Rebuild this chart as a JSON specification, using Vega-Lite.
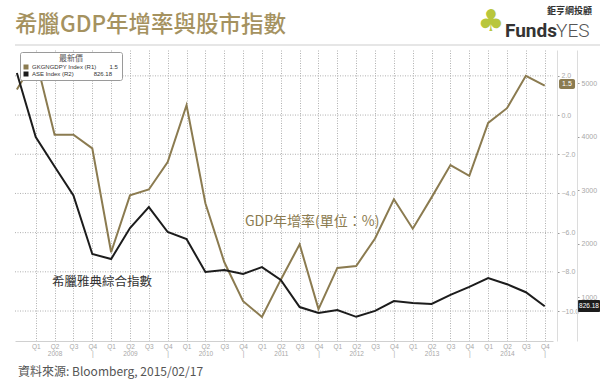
{
  "$schema": "https://vega.github.io/schema/vega-lite/v6.json",
  "width": 538,
  "height": 291,
  "autosize": {"type": "none"},
  "padding": {"left": 15, "top": 50, "right": 47, "bottom": 41},
  "background": "white",
  "config": {"view": {"stroke": null}, "font": "Noto Sans CJK TC"},
  "data": {"values": [
    {"t": 0, "quarter": "2007Q4", "gdp": 1.3, "ase": 5187},
    {"t": 1, "quarter": "2008Q1", "gdp": 2.9, "ase": 3991},
    {"t": 2, "quarter": "2008Q2", "gdp": -1.0, "ase": 3440},
    {"t": 3, "quarter": "2008Q3", "gdp": -1.0, "ase": 2900},
    {"t": 4, "quarter": "2008Q4", "gdp": -1.7, "ase": 1804},
    {"t": 5, "quarter": "2009Q1", "gdp": -7.0, "ase": 1710},
    {"t": 6, "quarter": "2009Q2", "gdp": -4.1, "ase": 2290},
    {"t": 7, "quarter": "2009Q3", "gdp": -3.8, "ase": 2682},
    {"t": 8, "quarter": "2009Q4", "gdp": -2.4, "ase": 2215},
    {"t": 9, "quarter": "2010Q1", "gdp": 0.5, "ase": 2084},
    {"t": 10, "quarter": "2010Q2", "gdp": -4.5, "ase": 1467},
    {"t": 11, "quarter": "2010Q3", "gdp": -7.5, "ase": 1505},
    {"t": 12, "quarter": "2010Q4", "gdp": -9.5, "ase": 1430},
    {"t": 13, "quarter": "2011Q1", "gdp": -10.3, "ase": 1560},
    {"t": 14, "quarter": "2011Q2", "gdp": -8.4, "ase": 1318},
    {"t": 15, "quarter": "2011Q3", "gdp": -6.6, "ase": 813},
    {"t": 16, "quarter": "2011Q4", "gdp": -9.9, "ase": 700},
    {"t": 17, "quarter": "2012Q1", "gdp": -7.8, "ase": 757},
    {"t": 18, "quarter": "2012Q2", "gdp": -7.7, "ase": 630},
    {"t": 19, "quarter": "2012Q3", "gdp": -6.3, "ase": 740},
    {"t": 20, "quarter": "2012Q4", "gdp": -4.3, "ase": 925},
    {"t": 21, "quarter": "2013Q1", "gdp": -5.8, "ase": 890},
    {"t": 22, "quarter": "2013Q2", "gdp": -4.2, "ase": 870},
    {"t": 23, "quarter": "2013Q3", "gdp": -2.55, "ase": 1040},
    {"t": 24, "quarter": "2013Q4", "gdp": -3.1, "ase": 1190},
    {"t": 25, "quarter": "2014Q1", "gdp": -0.4, "ase": 1355},
    {"t": 26, "quarter": "2014Q2", "gdp": 0.35, "ase": 1240},
    {"t": 27, "quarter": "2014Q3", "gdp": 2.0, "ase": 1090},
    {"t": 28, "quarter": "2014Q4", "gdp": 1.5, "ase": 826.18}
  ]},
  "resolve": {"scale": {"x": "independent", "y": "independent"}},
  "layer": [
    {
      "data": {"values": [{"level": -10}, {"level": -8}, {"level": -6}, {"level": -4}, {"level": -2}, {"level": 0}, {"level": 2}]},
      "mark": {"type": "rule", "color": "#b0b0b0", "strokeWidth": 1, "strokeDash": [1, 1.5]},
      "encoding": {
        "x": {"datum": -0.1, "type": "quantitative", "scale": {"domain": [-0.1, 28.44], "nice": false, "zero": false}, "axis": null},
        "x2": {"datum": 28.44},
        "y": {"field": "level", "type": "quantitative", "scale": {"domain": [-11.53, 3.32], "nice": false, "zero": false}, "axis": null}
      }
    },
    {
      "mark": {"type": "line", "strokeWidth": 2, "clip": false},
      "encoding": {
        "x": {"field": "t", "type": "quantitative",
          "scale": {"domain": [-0.1, 28.44], "nice": false, "zero": false},
          "axis": {"values": [1,2,3,4,5,6,7,8,9,10,11,12,13,14,15,16,17,18,19,20,21,22,23,24,25,26,27,28],
            "labelExpr": "[ 'Q' + (((datum.value - 1) % 4) + 1), ((datum.value - 1) % 4 == 1) ? '' + (2008 + floor((datum.value - 1) / 4)) : (((datum.value - 1) % 4 == 3) ? '|' : '') ]",
            "grid": true, "gridDash": [1, 1.5], "gridColor": "#b0b0b0", "ticks": false,
            "domainColor": "#d0d0d0", "labelFontSize": 6.5, "labelFont": "Liberation Sans", "labelColor": "#a8a8a8",
            "labelPadding": 2, "labelBaseline": "top", "labelLineHeight": 7, "title": null,
            "labelFlush": false, "labelOverlap": false, "labelBound": false}},
        "y": {"field": "gdp", "type": "quantitative",
          "scale": {"domain": [-11.53, 3.32], "nice": false, "zero": false},
          "axis": {"orient": "right", "offset": 4, "values": [-10,-8,-6,-4,-2,0,2], "format": ".1f",
            "grid": false, "tickSize": 2, "tickColor": "#999",
            "domainColor": "#dcdcdc", "labelFontSize": 7, "labelFont": "Liberation Sans", "labelColor": "#a8a8a8",
            "labelPadding": 2, "title": null}},
        "color": {"datum": "GKGNGDPY Index (R1)\u00a0\u00a0\u00a0\u00a0\u00a0\u00a0\u00a0\u00a01.5", "type": "nominal",
          "scale": {"domain": ["GKGNGDPY Index (R1)\u00a0\u00a0\u00a0\u00a0\u00a0\u00a0\u00a0\u00a01.5", "ASE Index (R2)\u00a0\u00a0\u00a0\u00a0\u00a0\u00a0\u00a0\u00a0\u00a0\u00a0\u00a0\u00a0826.18"],
            "range": ["#8b7b50", "#1c1c1c"]},
          "legend": {"orient": "none", "legendX": 5, "legendY": 2, "zindex": 2,
            "title": "最新價", "titleAnchor": "middle", "titleFontSize": 8, "titleFontWeight": "normal",
            "titleColor": "#555", "titlePadding": 1, "labelFontSize": 6, "labelFont": "Liberation Sans",
            "labelColor": "#333", "symbolType": "square", "symbolSize": 25, "symbolStrokeWidth": 0,
            "fillColor": "white", "strokeColor": "#9a9a9a", "padding": 3, "cornerRadius": 2,
            "rowPadding": 1, "labelOffset": 3,
            "encode": {"symbols": {"update": {"fill": {"scale": "color", "field": "value"}, "stroke": {"value": "transparent"}}}}}}
      }
    },
    {
      "mark": {"type": "line", "strokeWidth": 2, "clip": false},
      "encoding": {
        "x": {"field": "t", "type": "quantitative", "scale": {"domain": [-0.1, 28.44], "nice": false, "zero": false}, "axis": null},
        "y": {"field": "ase", "type": "quantitative",
          "scale": {"domain": [178, 5617], "nice": false, "zero": false},
          "axis": {"orient": "right", "offset": 24, "values": [1000, 2000, 3000, 4000, 5000], "format": "d",
            "grid": false, "tickSize": 2, "tickColor": "#999", "domainColor": "#dcdcdc",
            "labelFontSize": 7, "labelFont": "Liberation Sans", "labelColor": "#a8a8a8", "labelPadding": 2, "title": null}},
        "color": {"datum": "ASE Index (R2)\u00a0\u00a0\u00a0\u00a0\u00a0\u00a0\u00a0\u00a0\u00a0\u00a0\u00a0\u00a0826.18", "type": "nominal"}
      }
    },
    {
      "data": {"values": [{}]},
      "mark": {"type": "rule", "color": "#e6e6e6", "strokeWidth": 2},
      "encoding": {
        "x": {"datum": -0.1, "type": "quantitative", "scale": {"domain": [-0.1, 28.44], "nice": false, "zero": false}, "axis": null},
        "x2": {"datum": 30.94},
        "y": {"datum": 3.57, "type": "quantitative", "scale": {"domain": [-11.53, 3.32], "nice": false, "zero": false}, "axis": null}
      }
    },
    {
      "data": {"values": [{}]},
      "mark": {"type": "text", "text": "希臘GDP年增率與股市指數", "align": "left", "baseline": "alphabetic",
        "fontSize": 22.5, "fontWeight": 500, "color": "#a5925f"},
      "encoding": {
        "x": {"datum": -0.1, "type": "quantitative", "scale": {"domain": [-0.1, 28.44], "nice": false, "zero": false}, "axis": null},
        "y": {"datum": 4.23, "type": "quantitative", "scale": {"domain": [-11.53, 3.32], "nice": false, "zero": false}, "axis": null}
      }
    },
    {
      "data": {"values": [{}]},
      "mark": {"type": "text", "text": "♣", "align": "center", "baseline": "middle",
        "fontSize": 30, "font": "DejaVu Sans", "color": "#b8c63c"},
      "encoding": {
        "x": {"datum": 25.15, "type": "quantitative", "scale": {"domain": [-0.1, 28.44], "nice": false, "zero": false}, "axis": null},
        "y": {"datum": 4.74, "type": "quantitative", "scale": {"domain": [-11.53, 3.32], "nice": false, "zero": false}, "axis": null}
      }
    },
    {
      "data": {"values": [{}]},
      "mark": {"type": "text", "text": "Funds", "align": "left", "baseline": "alphabetic",
        "fontSize": 19, "fontWeight": "bold", "font": "Roboto", "color": "#333333"},
      "encoding": {
        "x": {"datum": 25.89, "type": "quantitative", "scale": {"domain": [-0.1, 28.44], "nice": false, "zero": false}, "axis": null},
        "y": {"datum": 3.98, "type": "quantitative", "scale": {"domain": [-11.53, 3.32], "nice": false, "zero": false}, "axis": null}
      }
    },
    {
      "data": {"values": [{}]},
      "mark": {"type": "text", "text": "YES", "align": "left", "baseline": "alphabetic",
        "fontSize": 19, "fontWeight": 300, "font": "Roboto", "color": "#555555"},
      "encoding": {
        "x": {"datum": 28.6, "type": "quantitative", "scale": {"domain": [-0.1, 28.44], "nice": false, "zero": false}, "axis": null},
        "y": {"datum": 3.98, "type": "quantitative", "scale": {"domain": [-11.53, 3.32], "nice": false, "zero": false}, "axis": null}
      }
    },
    {
      "data": {"values": [{}]},
      "mark": {"type": "text", "text": "鉅亨網投顧", "align": "right", "baseline": "alphabetic",
        "fontSize": 9, "fontWeight": "bold", "color": "#333333"},
      "encoding": {
        "x": {"datum": 30.51, "type": "quantitative", "scale": {"domain": [-0.1, 28.44], "nice": false, "zero": false}, "axis": null},
        "y": {"datum": 5.15, "type": "quantitative", "scale": {"domain": [-11.53, 3.32], "nice": false, "zero": false}, "axis": null}
      }
    },
    {
      "data": {"values": [{}]},
      "mark": {"type": "text", "text": "GDP年增率(單位：%)", "align": "left", "baseline": "middle",
        "fontSize": 14, "color": "#8b7b50"},
      "encoding": {
        "x": {"datum": 12.1, "type": "quantitative", "scale": {"domain": [-0.1, 28.44], "nice": false, "zero": false}, "axis": null},
        "y": {"datum": -5.46, "type": "quantitative", "scale": {"domain": [-11.53, 3.32], "nice": false, "zero": false}, "axis": null}
      }
    },
    {
      "data": {"values": [{}]},
      "mark": {"type": "text", "text": "資料來源: Bloomberg, 2015/02/17", "align": "left", "baseline": "alphabetic",
        "fontSize": 12, "color": "#555555"},
      "encoding": {
        "x": {"datum": 0.06, "type": "quantitative", "scale": {"domain": [-0.1, 28.44], "nice": false, "zero": false}, "axis": null},
        "y": {"datum": -13.3, "type": "quantitative", "scale": {"domain": [-11.53, 3.32], "nice": false, "zero": false}, "axis": null}
      }
    },
    {
      "data": {"values": [{}]},
      "mark": {"type": "rect", "color": "#8b7b50", "cornerRadius": 2},
      "encoding": {
        "x": {"datum": 28.76, "type": "quantitative", "scale": {"domain": [-0.1, 28.44], "nice": false, "zero": false}, "axis": null},
        "x2": {"datum": 29.61},
        "y": {"datum": 1.84, "type": "quantitative", "scale": {"domain": [-11.53, 3.32], "nice": false, "zero": false}, "axis": null},
        "y2": {"datum": 1.33}
      }
    },
    {
      "data": {"values": [{}]},
      "mark": {"type": "text", "text": "1.5", "align": "center", "baseline": "middle",
        "fontSize": 7, "font": "Liberation Sans", "color": "white"},
      "encoding": {
        "x": {"datum": 29.18, "type": "quantitative", "scale": {"domain": [-0.1, 28.44], "nice": false, "zero": false}, "axis": null},
        "y": {"datum": 1.58, "type": "quantitative", "scale": {"domain": [-11.53, 3.32], "nice": false, "zero": false}, "axis": null}
      }
    },
    {
      "data": {"values": [{}]},
      "mark": {"type": "text", "text": "希臘雅典綜合指數", "align": "left", "baseline": "middle",
        "fontSize": 12.5, "color": "#333333"},
      "encoding": {
        "x": {"datum": 1.86, "type": "quantitative", "scale": {"domain": [-0.1, 28.44], "nice": false, "zero": false}, "axis": null},
        "y": {"datum": 1280, "type": "quantitative", "scale": {"domain": [178, 5617], "nice": false, "zero": false}, "axis": null}
      }
    },
    {
      "data": {"values": [{}]},
      "mark": {"type": "rect", "color": "#1c1c1c", "cornerRadius": 1},
      "encoding": {
        "x": {"datum": 29.77, "type": "quantitative", "scale": {"domain": [-0.1, 28.44], "nice": false, "zero": false}, "axis": null},
        "x2": {"datum": 30.94},
        "y": {"datum": 944, "type": "quantitative", "scale": {"domain": [178, 5617], "nice": false, "zero": false}, "axis": null},
        "y2": {"datum": 720}
      }
    },
    {
      "data": {"values": [{}]},
      "mark": {"type": "text", "text": "826.18", "align": "center", "baseline": "middle",
        "fontSize": 6.5, "font": "Liberation Sans", "color": "white"},
      "encoding": {
        "x": {"datum": 30.35, "type": "quantitative", "scale": {"domain": [-0.1, 28.44], "nice": false, "zero": false}, "axis": null},
        "y": {"datum": 832, "type": "quantitative", "scale": {"domain": [178, 5617], "nice": false, "zero": false}, "axis": null}
      }
    }
  ]
}
